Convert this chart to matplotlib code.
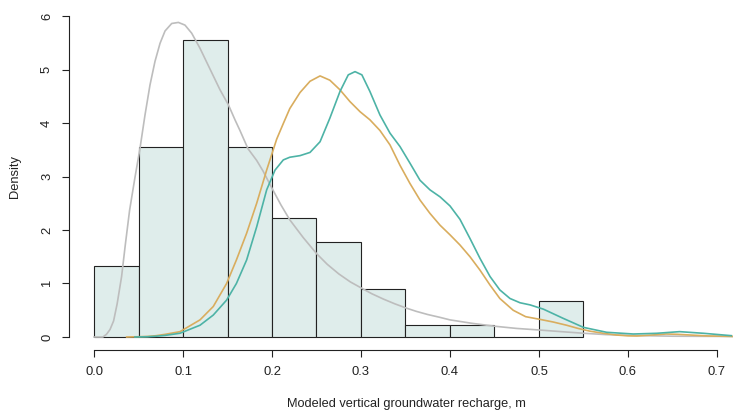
import matplotlib
matplotlib.use("Agg")
import matplotlib.pyplot as plt
import numpy as np

plt.rcParams['font.family'] = ['Liberation Sans', 'DejaVu Sans']

# Histogram (density) of modeled recharge, bin width 0.05
bin_edges = [0.0, 0.05, 0.10, 0.15, 0.20, 0.25, 0.30, 0.35, 0.40, 0.45, 0.50, 0.55]
densities = [1.333, 3.556, 5.556, 3.556, 2.222, 1.778, 0.889, 0.222, 0.222, 0.0, 0.667]

# Gray density curve
gray_x = [0.0, 0.010, 0.014, 0.018, 0.022, 0.026, 0.031, 0.035, 0.040, 0.046, 0.0517, 0.0573,
          0.0629, 0.0685, 0.0742, 0.0798, 0.0873, 0.0948, 0.1022, 0.1097, 0.119, 0.130, 0.1416,
          0.151, 0.1584, 0.164, 0.173, 0.1828, 0.190, 0.200, 0.210, 0.220, 0.235, 0.250, 0.262,
          0.275, 0.288, 0.301, 0.312, 0.325, 0.338, 0.351, 0.362, 0.375, 0.388, 0.400, 0.425,
          0.451, 0.475, 0.501, 0.525, 0.550, 0.575, 0.602, 0.650, 0.718]
gray_y = [0.0, 0.0, 0.05, 0.14, 0.30, 0.62, 1.13, 1.70, 2.37, 2.98, 3.53, 4.15,
          4.71, 5.15, 5.49, 5.72, 5.86, 5.88, 5.83, 5.68, 5.40, 5.02, 4.62,
          4.34, 4.06, 3.86, 3.52, 3.30, 3.10, 2.78, 2.47, 2.19, 1.86, 1.56, 1.36,
          1.18, 1.03, 0.91, 0.81, 0.71, 0.62, 0.54, 0.48, 0.42, 0.37, 0.32, 0.255,
          0.20, 0.16, 0.13, 0.10, 0.07, 0.045, 0.03, 0.015, 0.01]

# Gold density curve
gold_x = [0.0367, 0.050, 0.060, 0.070, 0.080, 0.0966, 0.1191, 0.134, 0.149, 0.160, 0.1715,
          0.1828, 0.194, 0.2053, 0.2127, 0.220, 0.2315, 0.2427, 0.254, 0.265, 0.2764, 0.2876,
          0.299, 0.310, 0.3213, 0.3326, 0.3438, 0.355, 0.3663, 0.3775, 0.3888, 0.400, 0.4112,
          0.4225, 0.4337, 0.445, 0.456, 0.471, 0.485, 0.501, 0.516, 0.531, 0.544, 0.557, 0.572,
          0.587, 0.600, 0.610, 0.625, 0.643, 0.656, 0.670, 0.690, 0.718]
gold_y = [0.0, 0.005, 0.01, 0.025, 0.05, 0.10, 0.32, 0.57, 1.0, 1.44, 1.94,
          2.50, 3.12, 3.70, 3.99, 4.27, 4.57, 4.78, 4.88, 4.80, 4.62, 4.40,
          4.21, 4.06, 3.86, 3.59, 3.21, 2.87, 2.56, 2.31, 2.09, 1.91, 1.72,
          1.50, 1.25, 0.97, 0.72, 0.50, 0.38, 0.33, 0.28, 0.22, 0.16, 0.11, 0.07,
          0.037, 0.022, 0.019, 0.035, 0.056, 0.05, 0.037, 0.02, 0.01]

# Teal density curve
teal_x = [0.046, 0.060, 0.070, 0.080, 0.0966, 0.1191, 0.134, 0.149, 0.160, 0.1715, 0.1828,
          0.194, 0.2034, 0.2127, 0.220, 0.2315, 0.2427, 0.254, 0.265, 0.2764, 0.2857, 0.2933,
          0.301, 0.310, 0.3213, 0.3326, 0.3438, 0.355, 0.3663, 0.3775, 0.3888, 0.400, 0.4112,
          0.4225, 0.4337, 0.445, 0.456, 0.4674, 0.4787, 0.490, 0.505, 0.527, 0.550, 0.576,
          0.606, 0.632, 0.658, 0.685, 0.716]
teal_y = [0.0, 0.005, 0.015, 0.03, 0.07, 0.22, 0.41, 0.69, 1.0, 1.44, 2.06,
          2.75, 3.12, 3.31, 3.36, 3.39, 3.45, 3.65, 4.09, 4.59, 4.90, 4.96,
          4.90, 4.59, 4.15, 3.81, 3.56, 3.25, 2.93, 2.75, 2.62, 2.45, 2.20,
          1.84, 1.47, 1.13, 0.88, 0.72, 0.64, 0.60, 0.52, 0.35, 0.18, 0.088,
          0.056, 0.069, 0.10, 0.069, 0.025]

x_ticks = [0.0, 0.1, 0.2, 0.3, 0.4, 0.5, 0.6, 0.7]
x_tick_labels = ["0.0", "0.1", "0.2", "0.3", "0.4", "0.5", "0.6", "0.7"]
y_ticks = [0, 1, 2, 3, 4, 5, 6]

W, H = 733, 413
fig = plt.figure(figsize=(W / 100, H / 100), dpi=100)
ax = fig.add_axes([69 / W, (H - 350) / H, (W - 69) / W, (350 - 3) / H])

widths = np.diff(bin_edges)
ax.bar(bin_edges[:-1], densities, width=widths, align='edge',
       color='#dfedeb', edgecolor='#222222', linewidth=0.8, zorder=1)

ax.plot(gray_x, gray_y, color='#bdbdbd', lw=1.2, zorder=2)
ax.plot(gold_x, gold_y, color='#d9ad5e', lw=1.2, zorder=3)
ax.plot(teal_x, teal_y, color='#4db3a6', lw=1.2, zorder=4)

ax.set_xlim(-0.0281, 0.718)
ax.set_ylim(-0.243, 6.243)

for s in ['top', 'right']:
    ax.spines[s].set_visible(False)
ax.spines['left'].set_bounds(0, 6)
ax.spines['bottom'].set_bounds(0, 0.7)
for s in ['left', 'bottom']:
    ax.spines[s].set_linewidth(0.8)
    ax.spines[s].set_color('#222222')

ax.set_xticks(x_ticks)
ax.set_xticklabels(x_tick_labels)
ax.set_yticks(y_ticks)
ax.set_yticklabels([str(v) for v in y_ticks], rotation=90, va='center')
ax.tick_params(axis='both', direction='out', length=5, width=0.8, color='#222222',
               labelsize=9.4, labelcolor='#222222')
ax.tick_params(axis='x', pad=6.5)
ax.tick_params(axis='y', pad=6.5)

fig.text(15.5 / W, 1 - 177 / H, "Density", rotation=90, ha='center', va='center',
         fontsize=9.3, color='#222222')
fig.text(406 / W, 1 - 404 / H, "Modeled vertical groundwater recharge, m",
         ha='center', va='center', fontsize=9.2, color='#222222')

fig.savefig("out.png", dpi=100)
